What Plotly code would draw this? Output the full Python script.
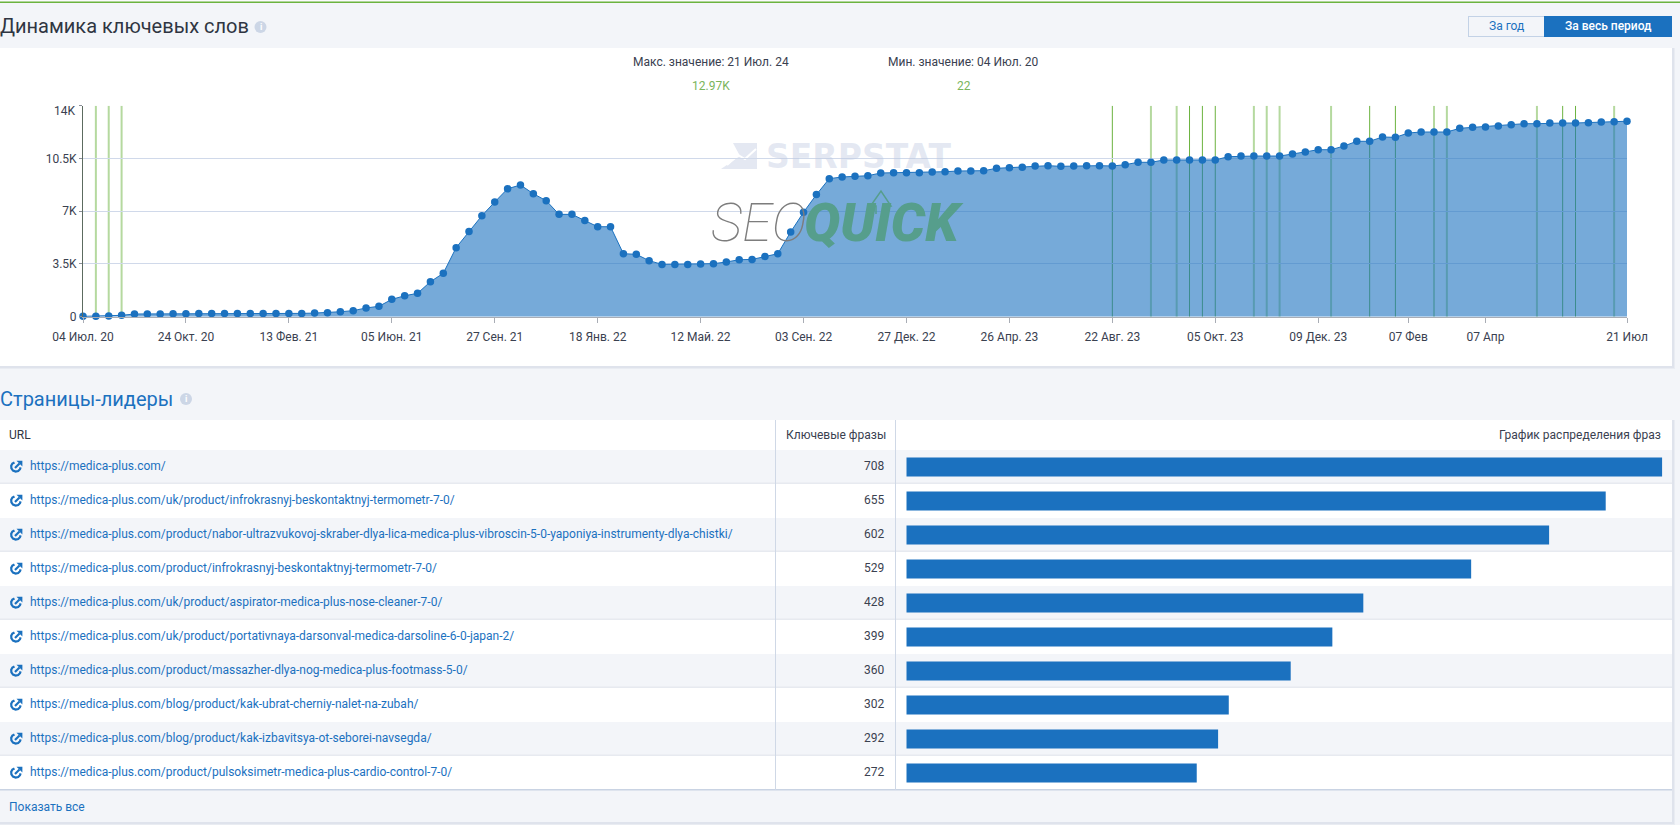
import plotly.graph_objects as go

# Keyword dynamics series: one value per snapshot
keyword_counts = [
    22, 30, 50, 90, 180, 180, 180, 200, 200, 220, 220, 220, 220, 220, 220, 220, 220, 220, 240, 270,
    330, 400, 580, 690, 1150, 1390, 1550, 2320, 2880, 4580, 5660, 6700, 7610, 8490, 8740, 8160, 7700, 6790, 6790, 6390,
    5970, 5970, 4180, 4140, 3720, 3470, 3470, 3470, 3490, 3520, 3630, 3780, 3800, 4000, 4180, 5620, 6930, 8100, 9160, 9270,
    9315, 9355, 9535, 9555, 9555, 9555, 9600, 9620, 9667, 9667, 9687, 9846, 9886, 9913, 9999, 10019, 9979, 10000, 10020, 10020,
    10000, 10085, 10245, 10245, 10397, 10400, 10400, 10400, 10400, 10616, 10660, 10660, 10660, 10660, 10795, 10928, 11080, 11080, 11326, 11638,
    11640, 11923, 11900, 12188, 12255, 12255, 12255, 12500, 12567, 12587, 12653, 12739, 12806, 12806, 12852, 12852, 12852, 12872, 12918, 12938,
    12970,
]
x_tick_positions = [0, 8, 16, 24, 32, 40, 48, 56, 64, 72, 80, 88, 96, 103, 109, 120]
x_tick_labels = [
    "04 Июл. 20", "24 Окт. 20", "13 Фев. 21", "05 Июн. 21", "27 Сен. 21", "18 Янв. 22",
    "12 Май. 22", "03 Сен. 22", "27 Дек. 22", "26 Апр. 23", "22 Авг. 23", "05 Окт. 23",
    "09 Дек. 23", "07 Фев", "07 Апр", "21 Июл",
]
y_tick_values = [0, 3500, 7000, 10500, 14000]
y_tick_labels = ["0", "3.5K", "7K", "10.5K", ""]
# Update markers: the first group renders soft and wide, the second thin and sharp
update_positions_soft = [1, 2, 3, 83, 85, 91, 92, 93, 97, 105, 106, 113, 119]
update_positions_sharp = [80, 86, 87, 88, 100, 102, 115, 116]

# Top pages table
page_urls = [
    "https://medica-plus.com/",
    "https://medica-plus.com/uk/product/infrokrasnyj-beskontaktnyj-termometr-7-0/",
    "https://medica-plus.com/product/nabor-ultrazvukovoj-skraber-dlya-lica-medica-plus-vibroscin-5-0-yaponiya-instrumenty-dlya-chistki/",
    "https://medica-plus.com/product/infrokrasnyj-beskontaktnyj-termometr-7-0/",
    "https://medica-plus.com/uk/product/aspirator-medica-plus-nose-cleaner-7-0/",
    "https://medica-plus.com/uk/product/portativnaya-darsonval-medica-darsoline-6-0-japan-2/",
    "https://medica-plus.com/product/massazher-dlya-nog-medica-plus-footmass-5-0/",
    "https://medica-plus.com/blog/product/kak-ubrat-cherniy-nalet-na-zubah/",
    "https://medica-plus.com/blog/product/kak-izbavitsya-ot-seborei-navsegda/",
    "https://medica-plus.com/product/pulsoksimetr-medica-plus-cardio-control-7-0/",
]
page_phrases = [708, 655, 602, 529, 428, 399, 360, 302, 292, 272]

W, H = 1680, 825
PAGE = "#f3f5f9"
BLUE = "#1b71bf"
INK = "#3a4150"
GREEN = "#6cb33f"
FONT = "Roboto"


def px(x):
    return x / W


def py(y):
    return 1 - y / H


def rect(x0, y0, x1, y1, fill):
    return dict(type="rect", xref="paper", yref="paper", layer="below",
                x0=px(x0), x1=px(x1), y0=py(y0), y1=py(y1),
                fillcolor=fill, line=dict(width=0))


def poly(points, color=None, fill=None, width=1.0, layer="below", closed=False):
    # Build an SVG path from page pixel coordinates; None starts a new subpath
    d, pen_up = "", True
    for p in points:
        if p is None:
            pen_up = True
            continue
        d += f"{'M' if pen_up else 'L'}{px(p[0]):.5f} {py(p[1]):.5f} "
        pen_up = False
    if closed:
        d += "Z"
    return dict(type="path", xref="paper", yref="paper", layer=layer, path=d,
                fillcolor=fill if fill else "rgba(0,0,0,0)",
                line=dict(color=color if color else "rgba(0,0,0,0)", width=width))


def note(x, y, text, anchor="left", size=12, color=INK, **font_extra):
    return dict(xref="paper", yref="paper", x=px(x), y=py(y), text=text, showarrow=False,
                xanchor=anchor, yanchor="middle", borderpad=0,
                font=dict(family=font_extra.pop("family", FONT), size=size, color=color, **font_extra))


def panel(x0, y0, x1, y1, fill):
    return [rect(x0, y0, x1 + 3, y1 + 3, "#e9ecf2"), rect(x0, y0, x1 + 2, y1 + 2, "#dfe3ec"),
            rect(x0, y0, x1, y1, fill)]


def info_icon(cx, cy):
    return dict(type="circle", xref="paper", yref="paper", layer="below",
                x0=px(cx - 6), x1=px(cx + 6), y0=py(cy + 6), y1=py(cy - 6),
                fillcolor="#ccd6e6", line=dict(width=0))


def link_icon(cx, cy):
    # Open ring with an arrow leaving through its upper right side
    ring = [(-1.5, -4.5), (-3.6, -3.4), (-4.8, -1.2), (-4.6, 1.4), (-3.0, 3.6), (-0.4, 4.6), (2.2, 4.0), (4.0, 2.2), (4.6, 0.4)]
    shapes = [poly([(cx + a, cy + b) for a, b in ring], color=BLUE, width=2.2),
              poly([(cx - 1, cy + 1), (cx + 3.5, cy - 3.5)], color=BLUE, width=2.2),
              poly([(cx + 0.5, cy - 6.2), (cx + 6.4, cy - 6.2), (cx + 6.4, cy - 0.5)], fill=BLUE, closed=True)]
    return shapes


shapes = []
annotations = []

# Page chrome and the chart panel
shapes.append(rect(0, 0, W, 1.5, "#fbfbfc"))
shapes.append(rect(0, 1.5, W, 3, GREEN))
shapes += panel(0, 48, 1672, 366, "#ffffff")
shapes.append(rect(1468, 16, 1544, 37, "#c3d2e6"))
shapes.append(rect(1469, 17, 1544, 36, PAGE))
shapes.append(rect(1544, 16, 1672, 37, BLUE))
shapes.append(info_icon(260.5, 27))
shapes.append(info_icon(186, 399))
annotations += [
    note(260.5, 27, "i", "center", 9, "#ffffff", weight=700),
    note(186, 399, "i", "center", 9, "#ffffff", weight=700),
    note(-1, 26.5, "Динамика ключевых слов", size=20, color="#2f3542"),
    note(-1, 398.5, "Страницы-лидеры", size=20, color=BLUE),
    note(1506, 26, "За год", "center", 12, BLUE),
    note(1608, 26, "За весь период", "center", 12, "#ffffff", weight=500),
    note(711, 61.5, "Макс. значение: 21 Июл. 24", "center"),
    note(711, 85.5, "12.97K", "center", color="#7ab55c"),
    note(964, 61.5, "Мин. значение: 04 Июл. 20", "center"),
    note(964, 85.5, "22", "center", color="#7ab55c"),
    note(75.5, 111.5, "14K", "right"),
]

# Watermarks over the plot area
shapes.append(poly([(733, 143), (757, 143), (757, 169), (721, 169), (740, 156)], fill="#e4e8f2", closed=True))
shapes.append(poly([(727, 165), (738, 155), (745, 159), (756, 149)], color="#ffffff", width=2))
annotations += [
    note(765, 156.5, "SERPSTAT", size=33, color="rgba(190,200,225,0.42)", family="DejaVu Sans", weight=700),
    note(710, 223, "SEO", size=54, color="#7d7d7d", weight=100, style="italic"),
    note(803, 223, "QUICK", size=54, color="#569e8c", weight=900, style="italic"),
]
shapes.append(poly([(876, 214), (876, 206), (870.5, 206), (881, 191), (891, 206), (886, 206), (886, 214)],
                   color="#569e8c", width=1.5, layer="above"))

# Table panel: header, striped rows, footer
TABLE_TOP, ROW_TOP, ROW_H = 420, 450, 34
ROW_BOTTOM = ROW_TOP + ROW_H * len(page_urls)
shapes += panel(0, TABLE_TOP, 1672, 822, PAGE)
shapes.append(rect(0, TABLE_TOP, 1672, ROW_TOP, "#ffffff"))
for i in range(len(page_urls)):
    top = ROW_TOP + i * ROW_H
    shapes.append(rect(0, top, 1672, top + ROW_H, PAGE if i % 2 == 0 else "#ffffff"))
    if i % 2 == 0:
        shapes.append(rect(0, top + ROW_H - 1.5, 1672, top + ROW_H, "#e7eaf0"))
    shapes += link_icon(16, top + 17)
    annotations.append(note(29, top + 16, page_urls[i], color=BLUE))
    annotations.append(note(884.5, top + 16, str(page_phrases[i]), "right"))
shapes.append(rect(0, ROW_BOTTOM - 1, 1672, ROW_BOTTOM + 0.5, "#c9d3e3"))
shapes.append(rect(775, TABLE_TOP, 776, ROW_BOTTOM, "#cfd8e6"))
shapes.append(rect(895, TABLE_TOP, 896, ROW_BOTTOM, "#cfd8e6"))
annotations += [
    note(8, 435, "URL", color="#2f3542"),
    note(887, 435, "Ключевые фразы", "right"),
    note(1662, 435, "График распределения фраз", "right"),
    note(8, 806.5, "Показать все", color=BLUE),
]

# Update markers sit under the translucent area, so they tint through it
for positions, stroke, stroke_width in [(update_positions_soft, "rgba(108,179,63,0.5)", 2),
                                        (update_positions_sharp, GREEN, 1)]:
    for pos in positions:
        shapes.append(dict(type="line", xref="x", yref="y", layer="below", x0=pos, x1=pos, y0=0, y1=14000,
                           line=dict(color=stroke, width=stroke_width)))

fig = go.Figure()

fig.add_trace(go.Scatter(x=list(range(len(keyword_counts))), y=keyword_counts, mode="lines+markers",
                         fill="tozeroy", fillcolor="rgba(27,113,191,0.6)",
                         line=dict(color=BLUE, width=1), marker=dict(color=BLUE, size=7.5),
                         cliponaxis=False, showlegend=False, xaxis="x", yaxis="y"))

fig.add_trace(go.Bar(x=page_phrases, y=page_urls, orientation="h", marker=dict(color=BLUE, line=dict(width=0)),
                     width=19 / 34, showlegend=False, xaxis="x2", yaxis="y2"))

fig.update_layout(
    width=W, height=H, autosize=False,
    margin=dict(l=0, r=0, t=0, b=0, pad=0, autoexpand=False),
    paper_bgcolor=PAGE, plot_bgcolor="rgba(0,0,0,0)",
    font=dict(family=FONT, size=12, color=INK),
    hovermode=False,
    shapes=shapes, annotations=annotations,
    xaxis=dict(domain=[px(83), px(1627)], range=[0, 120], tickmode="array",
               tickvals=x_tick_positions, ticktext=x_tick_labels, ticks="outside", ticklen=5,
               tickcolor="#a9adb5", showgrid=False, zeroline=False, showline=True,
               linecolor="#a9adb5", linewidth=1, anchor="y", tickangle=0,
               ticklabelstandoff=4, tickfont=dict(size=12, color=INK)),
    yaxis=dict(domain=[py(316.7), py(105.7)], range=[0, 14000], tickmode="array",
               tickvals=y_tick_values, ticktext=y_tick_labels, ticks="outside", ticklen=3,
               tickcolor="#8a8f98", gridcolor="#d0d9ea", gridwidth=1, zeroline=False, showline=True,
               linecolor="#5c6b60", linewidth=1, anchor="x", tickfont=dict(size=12, color=INK)),
    xaxis2=dict(domain=[px(906.3), px(1662.3)], range=[0, 708], visible=False, anchor="y2"),
    yaxis2=dict(domain=[py(ROW_BOTTOM), py(ROW_TOP)], range=[9.5, -0.5], visible=False, anchor="x2",
                type="category", categoryorder="array", categoryarray=page_urls),
)

fig.write_html("out.html", config=dict(displayModeBar=False))
